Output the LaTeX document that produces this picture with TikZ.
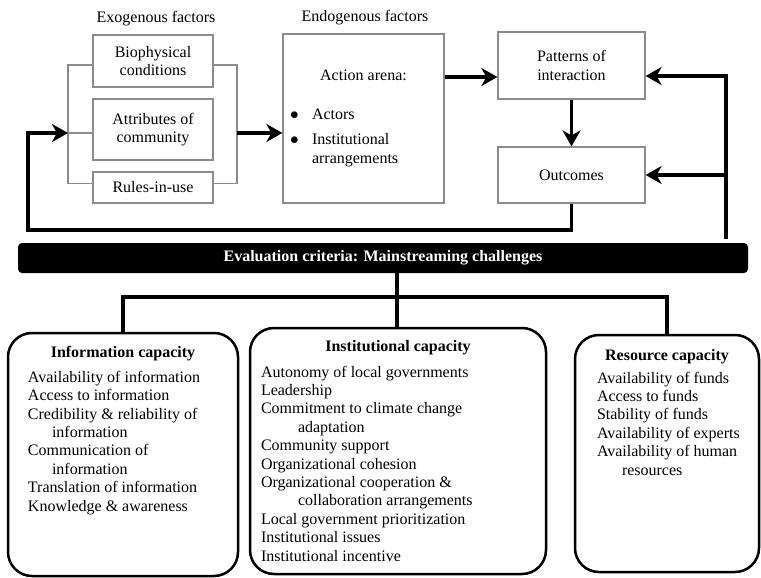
\documentclass[tikz,border=0pt]{standalone}
\usepackage{fontspec}
\setmainfont{Liberation Serif}
\usetikzlibrary{arrows.meta, positioning, calc}

\begin{document}
\begin{tikzpicture}[
  x=1pt, y=-1pt,
  font=\fontsize{16}{18.4}\selectfont,
  fbox/.style={draw=black!45, line width=1.2pt, align=center, inner sep=0pt},
  link/.style={draw=black!45, line width=1.2pt},
  flow/.style={line width=3.2pt, -{Stealth[length=16pt, width=18pt, inset=5pt]}},
  feed/.style={line width=3.2pt},
  capbox/.style={draw, line width=2.5pt, rounded corners=24pt, inner sep=0pt},
  lbl/.style={inner sep=0pt}
]
  \useasboundingbox (0,0) rectangle (761,578);

  % headings
  \node[lbl] (exo) at (156,19) {Exogenous factors};
  \node[lbl] (endo) at (365,18) {Endogenous factors};

  % exogenous factors
  \node[fbox, minimum width=120pt, minimum height=52pt] (bio) at (153,61) {Biophysical\\conditions};
  \node[fbox, minimum width=120pt, minimum height=61pt] (attr) at (153,129.5) {Attributes of\\community};
  \node[fbox, minimum width=120pt, minimum height=31pt] (rules) at (153,187.5) {Rules-in-use};

  % action arena and results
  \node[fbox, minimum width=161pt, minimum height=169pt, align=left] (arena) at (363.5,118.5) {
    \makebox[147pt]{Action arena:}\\[20pt]
    \makebox[22pt][l]{$\bullet$}Actors\\[7pt]
    \makebox[22pt][l]{$\bullet$}Institutional\\
    \hspace*{22pt}arrangements
  };
  \node[fbox, minimum width=147pt, minimum height=67pt] (pat) at (571.5,65.5) {Patterns of\\interaction};
  \node[fbox, minimum width=147pt, minimum height=56pt] (out) at (571.5,175) {Outcomes};

  \node[fill=black, rounded corners=4pt, minimum width=730pt, minimum height=30pt, inner sep=0pt,
        text=white, font=\fontsize{16}{18.4}\selectfont\bfseries] (bar) at (383,258)
    {Evaluation criteria: Mainstreaming challenges};

  % capacities
  \node[capbox, minimum width=230pt, minimum height=243pt] (info) at (123,454.5) {
    \parbox[c][243pt][t]{230pt}{\vspace*{13pt}
      {\centering\textbf{Information capacity}\par}
      \vspace{6.6pt}\leftskip=20pt
      Availability of information\\
      Access to information\\
      Credibility \& reliability of\\
      \hspace*{24pt}information\\
      Communication of\\
      \hspace*{24pt}information\\
      Translation of information\\
      Knowledge \& awareness}
  };
  \node[capbox, minimum width=296pt, minimum height=246pt] (inst) at (398,451) {
    \parbox[c][246pt][t]{296pt}{\vspace*{12pt}
      {\centering\textbf{Institutional capacity}\par}
      \vspace{7.6pt}\leftskip=11pt
      Autonomy of local governments\\
      Leadership\\
      Commitment to climate change\\
      \hspace*{37pt}adaptation\\
      Community support\\
      Organizational cohesion\\
      Organizational cooperation \&\\
      \hspace*{37pt}collaboration arrangements\\
      Local government prioritization\\
      Institutional issues\\
      Institutional incentive}
  };
  \node[capbox, minimum width=184pt, minimum height=237pt] (res) at (667,453.5) {
    \parbox[c][237pt][t]{184pt}{\vspace*{14pt}
      {\centering\textbf{Resource capacity}\par}
      \vspace{4.6pt}\leftskip=22pt
      Availability of funds\\
      Access to funds\\
      Stability of funds\\
      Availability of experts\\
      Availability of human\\
      \hspace*{25pt}resources}
  };

  \coordinate (lb) at (68,133);
  \coordinate (rb) at (237,133);
  \coordinate (fb) at (28,230);
  \coordinate (rbot) at (726,239);
  \coordinate (pin) at ([yshift=-11.5pt]pat.west);
  \coordinate (pout) at ([yshift=-10.5pt]pat.east);
  \coordinate (tree) at (397,297);

  % brackets round the exogenous factors
  \draw[link] ([yshift=-4pt]bio.west) -| (lb) |- ([yshift=4pt]rules.west);
  \draw[link] (lb) -- (lb -| attr.west);
  \draw[link] ([yshift=-4pt]bio.east) -| (rb) |- ([yshift=4pt]rules.east);

  \draw[flow] (rb) -- (rb -| arena.west);
  \draw[flow] (arena.east |- pin) -- (pin);
  \draw[flow] (pat.south) -- (out.north);
  \draw[flow] (out.south) |- (fb) |- (lb);
  \draw[flow] (rbot) |- (pout);
  \draw[flow] (rbot |- out.east) -- (out.east);

  % tree to the capacities
  \draw[feed] (bar.south -| tree) -- (inst.north -| tree);
  \draw[feed] (info.north) |- (tree) -| (res.north);
\end{tikzpicture}
\end{document}
